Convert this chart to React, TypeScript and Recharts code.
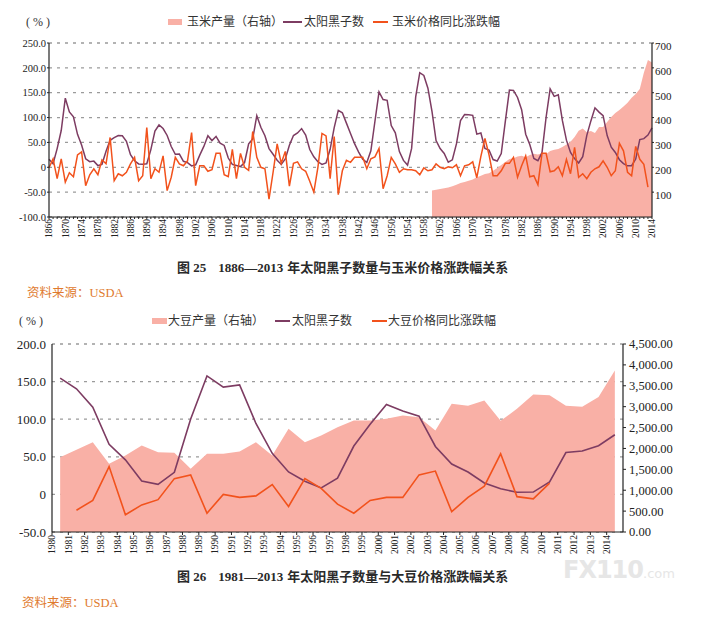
import React from "react";
import { Area, CartesianGrid, ComposedChart, Line, XAxis, YAxis } from "recharts";

// 太阳黑子数, 1866-2014 (年均值)
const sunspot = [
  16.3, 7.3, 37.6, 74.0,
  139.0, 111.2, 101.6, 66.2, 44.7, 17.0, 11.3, 12.4, 3.4, 6.0,
  32.3, 54.3, 59.7, 63.7, 63.5, 52.2, 25.4, 13.1, 6.8, 6.3,
  7.1, 35.6, 73.0, 85.1, 78.0, 64.0, 41.8, 26.2, 26.7, 12.1,
  9.5, 2.7, 5.0, 24.4, 42.0, 63.5, 53.8, 62.0, 48.5, 43.9,
  18.6, 5.7, 3.6, 1.4, 9.6, 47.4, 57.1, 103.9, 80.6, 63.6,
  37.6, 26.1, 14.2, 5.8, 16.7, 44.3, 63.9, 69.0, 77.8, 64.9,
  35.7, 21.2, 11.1, 5.7, 8.7, 36.1, 79.7, 114.4, 109.6, 88.8,
  67.8, 47.5, 30.6, 16.3, 9.6, 33.2, 92.6, 151.6, 136.3, 134.7,
  83.9, 69.4, 31.5, 13.9, 4.4, 38.0, 141.7, 190.2, 184.8, 159.0,
  112.3, 53.9, 37.6, 27.9, 10.2, 15.1, 47.0, 93.8, 105.9, 105.5,
  104.5, 66.6, 68.9, 38.0, 34.5, 15.5, 12.6, 27.5, 92.5, 155.4,
  154.6, 140.4, 115.9, 66.6, 45.9, 17.9, 13.4, 29.4, 100.2, 157.6,
  142.6, 145.7, 94.3, 54.6, 29.9, 17.5, 8.6, 21.5, 64.3, 93.3,
  119.6, 111.0, 104.0, 63.7, 40.4, 29.8, 15.2, 7.5, 2.9, 3.1,
  16.5, 55.7, 57.6, 64.7, 79.3,
];

// 玉米价格同比涨跌幅 (%), 1866-2013
const cornPrice = [
  -1, 17, -23, 17,
  -30, -11, -19, 25, 31, -37, -15, -3, -15, 15,
  7, 60, -27, -13, -17, -10, 7, 20, -27, -17,
  80, -23, -3, -10, 23, -47, -20, 20, 7, 3,
  13, 70, -37, 3, 3, -8, -5, 28, 28, -15,
  -19, 36, -23, 28, 0, -6, 72, 20, 0, -3,
  -64, -10, 47, 8, 32, -38, 8, 11, -3, -8,
  -28, -50, 0, 68, 63, -23, 62, -55, -7, 14,
  10, 20, 20, 20, -3, 17, 21, 38, -43, -17,
  20, 7, -10, -3, -5, -5, -7, -15, -1, -7,
  -5, 7, 0, -3, 1, -1, 5, -17, 3, 5,
  11, -21, 22, 58, 25, -17, -17, -7, 8, 8,
  20, -20, 3, 23, -19, -17, -35, 28, 28, -9,
  -7, 1, -17, 16, -13, 40, -20, -13, -23, -10,
  -3, 1, 13, 0, -17, -7, 48, 33, -10, -17,
  42, 16, 6, -40,
];

// 玉米产量 (右轴), 1960-2014
const cornOutput = [
  107, 110, 113, 116, 119, 124, 130, 137, 141, 146,
  151, 160, 166, 173, 176, 186, 197, 209, 221, 233,
  236, 243, 246, 240, 249, 254, 251, 256, 252, 266,
  271, 274, 282, 292, 303, 322, 347, 356, 341, 346,
  338, 362, 362, 382, 402, 418, 430, 445, 460, 480,
  495, 515, 580, 632, 622,
];

// 大豆产量 (右轴), 1980-2014
const soyOutput = [
  1792, 1968, 2150, 1634, 1832, 2071, 1911, 1897, 1514, 1872,
  1872, 1928, 2150, 1832, 2470, 2150, 2310, 2508, 2668, 2668,
  2708, 2788, 2748, 2430, 3067, 3020, 3146, 2660, 2948, 3290,
  3275, 3020, 3000, 3230, 3863,
];

// 大豆价格同比涨跌幅 (%), 1981-2010
const soyPrice = [
  -21, -8, 37, -27, -14, -7, 21, 26, -25, 0,
  -4, -2, 13, -16, 21, 8, -13, -25, -8, -4,
  -4, 26, 31, -23, -4, 11, 54, -3, -6, 15,
];

const topLeftTicks = [-100, -50, 0, 50, 100, 150, 200, 250];
const topRightTicks = [100, 200, 300, 400, 500, 600, 700];
const botLeftTicks = [-50, 0, 50, 100, 150, 200];
const botRightTicks = [0, 500, 1000, 1500, 2000, 2500, 3000, 3500, 4000, 4500];

const SERIF = "'Liberation Serif', 'Times New Roman', serif";
const CJK = "'Liberation Serif', 'Noto Sans CJK SC', sans-serif";
const PINK = "#f9b0a6";
const PURPLE = "#7d3c62";
const ORANGE = "#f2521c";
const INK = "#222";

const topYears = sunspot.map((_, i) => 1866 + i);
const topRows = topYears.map((year, i) => ({
  year,
  sunspot: sunspot[i],
  price: i < cornPrice.length ? cornPrice[i] : null,
  output: year >= 1960 ? cornOutput[year - 1960] : null,
}));

const botYears = soyOutput.map((_, i) => 1980 + i);
const botRows = botYears.map((year, i) => ({
  // Excel 图的点位于两个刻度之间
  x: year + 0.5,
  sunspot: sunspot[year - 1866],
  price: year >= 1981 && year <= 2010 ? soyPrice[year - 1981] : null,
  output: soyOutput[i],
}));

const pct = (v: number) => (v === 0 ? "0" : v.toFixed(1));
const money = (v: number) =>
  v.toLocaleString("en-US", { minimumFractionDigits: 2, maximumFractionDigits: 2 });

function YearTick(props: any) {
  const { x, y, payload, every, first, size } = props;
  const year = payload.value;
  if ((year - first) % every !== 0) return null;
  return (
    <text
      x={x}
      y={y}
      dy="0.35em"
      transform={`rotate(-90 ${x} ${y})`}
      textAnchor="end"
      fontSize={size}
      fontFamily={SERIF}
      fill={INK}
    >
      {year}
    </text>
  );
}

const Legend = (props: { top: number; unitLeft: number; items: any[] }) => (
  <>
    <div style={{ position: "absolute", left: props.unitLeft, top: props.top - 8, font: `12px/16px ${SERIF}`, color: "#333", whiteSpace: "pre" }}>
      {"( % )"}
    </div>
    {props.items.map((it) => (
      <React.Fragment key={it.label}>
        <div
          style={{
            position: "absolute",
            left: it.markLeft,
            top: props.top - it.markH / 2,
            width: it.markW,
            height: it.markH,
            background: it.color,
          }}
        />
        <div style={{ position: "absolute", left: it.textLeft, top: props.top - 8, font: `12px/16px ${CJK}`, color: "#333", whiteSpace: "nowrap" }}>
          {it.label}
        </div>
      </React.Fragment>
    ))}
  </>
);

const Caption = (props: { top: number; num: string; span: string; text: string }) => (
  <div style={{ position: "absolute", left: 177, top: props.top, font: `bold 13px/16px ${CJK}`, color: "#2a2a2a", whiteSpace: "nowrap" }}>
    <span>{props.num}</span>
    <span style={{ marginLeft: 12 }}>{props.span}</span>
    <span style={{ marginLeft: 4 }}>{props.text}</span>
  </div>
);

const Source = (props: { top: number; left: number }) => (
  <div style={{ position: "absolute", left: props.left, top: props.top, font: `12.5px/16px ${CJK}`, color: "#e07a2e", whiteSpace: "nowrap" }}>
    资料来源：USDA
  </div>
);

export default function App() {
  return (
    <div style={{ position: "relative", width: 709, height: 617, background: "#fff", overflow: "hidden" }}>
      <style>{"body{margin:0}"}</style>

      <Legend
        top={22}
        unitLeft={26}
        items={[
          { label: "玉米产量（右轴）", color: PINK, markLeft: 168, markW: 14, markH: 6, textLeft: 187 },
          { label: "太阳黑子数", color: PURPLE, markLeft: 283, markW: 19, markH: 2, textLeft: 304 },
          { label: "玉米价格同比涨跌幅", color: ORANGE, markLeft: 373, markW: 15, markH: 2, textLeft: 392 },
        ]}
      />
      <div style={{ position: "absolute", left: 0, top: 0 }}>
        <ComposedChart width={709} height={245} data={topRows} margin={{ top: 43, right: 0, bottom: 3, left: 0 }}>
          <CartesianGrid yAxisId="left" vertical={false} stroke="#9b9b9b" strokeWidth={1.3} strokeDasharray="3 5" />
          <XAxis
            type="number"
            dataKey="year"
            domain={[1866, 2014]}
            ticks={topYears}
            interval={0}
            height={25}
            tickSize={2}
            tickMargin={0}
            axisLine={{ stroke: INK, strokeWidth: 1.2 }}
            tickLine={{ stroke: INK }}
            tick={<YearTick every={4} first={1866} size={9.5} />}
          />
          <YAxis
            yAxisId="left"
            domain={[-100, 250]}
            ticks={topLeftTicks}
            tickFormatter={pct}
            width={49}
            tickSize={2}
            tickMargin={1}
            axisLine={{ stroke: INK, strokeWidth: 1.2 }}
            tickLine={{ stroke: INK }}
            tick={{ fontSize: 10.5, fontFamily: SERIF, fill: INK }}
          />
          <YAxis
            yAxisId="right"
            orientation="right"
            domain={[0, 700]}
            ticks={topRightTicks}
            width={57}
            tickSize={2}
            tickMargin={1}
            axisLine={{ stroke: INK, strokeWidth: 1.2 }}
            tickLine={{ stroke: INK }}
            tick={{ fontSize: 11, fontFamily: SERIF, fill: INK, dy: 3 }}
          />
          <Area yAxisId="right" type="linear" dataKey="output" stroke="none" fill={PINK} fillOpacity={1} isAnimationActive={false} />
          <Line yAxisId="left" type="linear" dataKey="sunspot" stroke={PURPLE} strokeWidth={1.5} dot={false} isAnimationActive={false} />
          <Line yAxisId="left" type="linear" dataKey="price" stroke={ORANGE} strokeWidth={1.5} dot={false} isAnimationActive={false} />
        </ComposedChart>
      </div>
      <Caption top={260} num="图 25" span="1886—2013" text="年太阳黑子数量与玉米价格涨跌幅关系" />
      <Source top={285} left={27} />

      <Legend
        top={321}
        unitLeft={19}
        items={[
          { label: "大豆产量（右轴）", color: PINK, markLeft: 152, markW: 15, markH: 6, textLeft: 168 },
          { label: "太阳黑子数", color: PURPLE, markLeft: 275, markW: 15, markH: 2, textLeft: 292 },
          { label: "大豆价格同比涨跌幅", color: ORANGE, markLeft: 372, markW: 15, markH: 2, textLeft: 388 },
        ]}
      />
      <div style={{ position: "absolute", left: 0, top: 300 }}>
        <ComposedChart width={709} height={265} data={botRows} margin={{ top: 44, right: 0, bottom: 3, left: 0 }}>
          <CartesianGrid yAxisId="left" vertical={false} stroke="#9b9b9b" strokeWidth={1.3} strokeDasharray="3 5" />
          <XAxis
            type="number"
            dataKey="x"
            domain={[1980, 2015]}
            ticks={botYears}
            interval={0}
            height={30}
            tickSize={3}
            tickMargin={0}
            axisLine={{ stroke: INK, strokeWidth: 1.2 }}
            tickLine={{ stroke: INK }}
            tick={<YearTick every={1} first={1980} size={9.5} />}
          />
          <YAxis
            yAxisId="left"
            domain={[-50, 200]}
            ticks={botLeftTicks}
            tickFormatter={pct}
            width={52}
            tickSize={3}
            tickMargin={3}
            axisLine={{ stroke: INK, strokeWidth: 1.2 }}
            tickLine={false}
            tick={{ fontSize: 13, fontFamily: SERIF, fill: INK }}
          />
          <YAxis
            yAxisId="right"
            orientation="right"
            domain={[0, 4500]}
            ticks={botRightTicks}
            tickFormatter={money}
            width={86}
            tickSize={3}
            tickMargin={3}
            axisLine={{ stroke: INK, strokeWidth: 1.2 }}
            tickLine={{ stroke: INK }}
            tick={{ fontSize: 12.5, fontFamily: SERIF, fill: INK }}
          />
          <Area yAxisId="right" type="linear" dataKey="output" stroke="none" fill={PINK} fillOpacity={1} isAnimationActive={false} />
          <Line yAxisId="left" type="linear" dataKey="sunspot" stroke={PURPLE} strokeWidth={1.6} dot={false} isAnimationActive={false} />
          <Line yAxisId="left" type="linear" dataKey="price" stroke={ORANGE} strokeWidth={1.6} dot={false} isAnimationActive={false} />
        </ComposedChart>
      </div>
      <Caption top={569} num="图 26" span="1981—2013" text="年太阳黑子数量与大豆价格涨跌幅关系" />
      <Source top={595} left={22} />

      <div style={{ position: "absolute", left: 563, top: 556, whiteSpace: "nowrap", color: "#e6e6e6", fontFamily: "'DejaVu Sans', sans-serif" }}>
        <span style={{ fontSize: 24, fontWeight: 900, letterSpacing: -1 }}>FX110</span>
        <span style={{ fontSize: 13 }}>.com</span>
      </div>
    </div>
  );
}
